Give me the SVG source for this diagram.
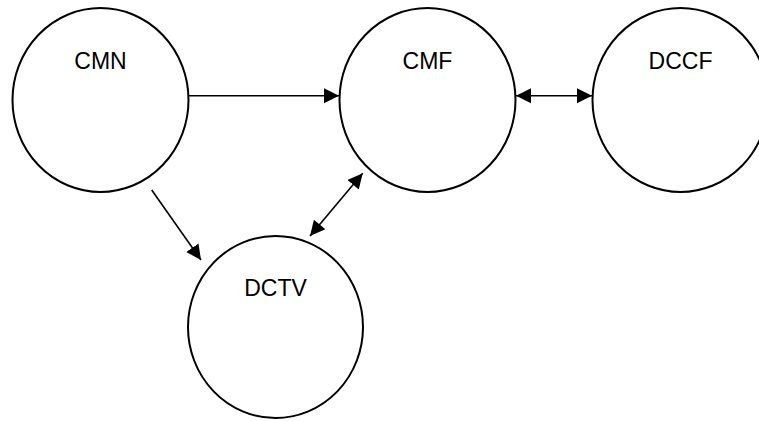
<svg xmlns="http://www.w3.org/2000/svg" width="759" height="421" viewBox="0 0 759 421">
  <style>
    .node { fill: #ffffff; stroke: #000000; stroke-width: 2; }
    .label { font-family: "Liberation Sans", Arial, sans-serif; font-size: 23px; fill: #000000; text-anchor: middle; }
    .edge { stroke: #000000; stroke-width: 1.6; fill: none; }
  </style>
  <defs>
    <marker id="head" markerUnits="userSpaceOnUse" markerWidth="16" markerHeight="16" refX="15" refY="7.5" orient="auto">
      <path d="M0,0 L15,7.5 L0,15 Z" fill="#000000"/>
    </marker>
    <marker id="tail" markerUnits="userSpaceOnUse" markerWidth="16" markerHeight="16" refX="0" refY="7.5" orient="auto">
      <path d="M15,0 L0,7.5 L15,15 Z" fill="#000000"/>
    </marker>
  </defs>
  <rect width="759" height="421" fill="#ffffff"/>

  <g id="CMN">
    <ellipse class="node" cx="100.5" cy="100" rx="88" ry="92"/>
    <text class="label" x="100.5" y="69">CMN</text>
  </g>
  <g id="CMF">
    <ellipse class="node" cx="427.5" cy="100" rx="88" ry="92"/>
    <text class="label" x="427.5" y="69">CMF</text>
  </g>
  <g id="DCCF">
    <ellipse class="node" cx="680.5" cy="100" rx="88" ry="92"/>
    <text class="label" x="680.5" y="69">DCCF</text>
  </g>
  <g id="DCTV">
    <ellipse class="node" cx="275.5" cy="327" rx="87.5" ry="91"/>
    <text class="label" x="275.5" y="296">DCTV</text>
  </g>

  <g id="connectors">
    <line class="edge" x1="188.5" y1="95.7" x2="339" y2="95.7" marker-end="url(#head)"/>
    <line class="edge" x1="516" y1="95.7" x2="592" y2="95.7" marker-start="url(#tail)" marker-end="url(#head)"/>
    <line class="edge" x1="151.7" y1="190" x2="201" y2="260" marker-end="url(#head)"/>
    <line class="edge" x1="310" y1="236" x2="362.7" y2="173.3" marker-start="url(#tail)" marker-end="url(#head)"/>
  </g>
</svg>
